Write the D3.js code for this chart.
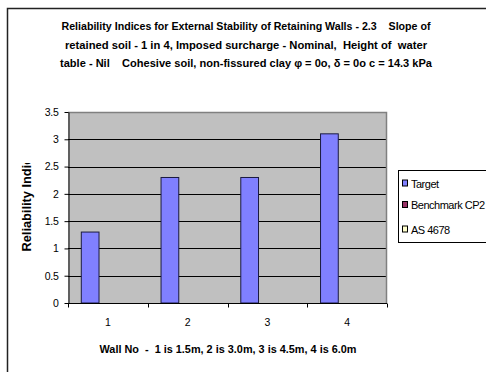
<!DOCTYPE html>
<html>
<head>
<meta charset="utf-8">
<script src="https://cdn.jsdelivr.net/npm/d3@7"></script>
<style>
  html, body { margin: 0; padding: 0; background: #fff; }
  svg { display: block; font-family: "Liberation Sans", Arial, sans-serif; }
  text.keep-spaces { white-space: pre; }
</style>
</head>
<body>
<svg id="chart" width="486" height="372"></svg>
<script>
// Wall numbers (x categories)
const categories = ["1", "2", "3", "4"];
// Series names and values (only Target has non-zero results)
const seriesNames = ["Target", "Benchmark CP2", "AS 4678"];
const targetValues = [1.3, 2.3, 2.3, 3.1];
const benchmarkValues = [0, 0, 0, 0];
const as4678Values = [0, 0, 0, 0];
const yTicks = [0, 0.5, 1, 1.5, 2, 2.5, 3, 3.5];
const titleLines = [
  "Reliability Indices for External Stability of Retaining Walls - 2.3    Slope of",
  "retained soil - 1 in 4, Imposed surcharge - Nominal,  Height of  water",
  "table - Nil    Cohesive soil, non-fissured clay \u03c6 = 0o, \u03b4 = 0o c = 14.3 kPa"
];
const xTitle = "Wall No  -  1 is 1.5m, 2 is 3.0m, 3 is 4.5m, 4 is 6.0m";
const yTitle = "Reliability Indices";

const seriesColors = ["#8080FF", "#993366", "#FFFFCC"];
const seriesValues = [targetValues, benchmarkValues, as4678Values];

const svg = d3.select("#chart");
const defs = svg.append("defs");

// Outer chart frame
svg.append("rect")
  .attr("x", 7.5).attr("y", 8.5)
  .attr("width", 520).attr("height", 400)
  .attr("fill", "#fff").attr("stroke", "#222").attr("stroke-width", 1.5);

// Title
const titleY = [30, 48.5, 67];
const titleW = [369, 362, 372];
svg.append("g").selectAll("text").data(titleLines).join("text")
  .attr("class", "keep-spaces")
  .attr("x", 246).attr("y", (d, i) => titleY[i])
  .attr("text-anchor", "middle")
  .attr("font-size", 10.5).attr("font-weight", "bold")
  .attr("textLength", (d, i) => titleW[i])
  .attr("lengthAdjust", "spacingAndGlyphs")
  .text(d => d);

// Plot area
const plot = { left: 68, top: 112, right: 387, bottom: 303 };

const x = d3.scaleBand()
  .domain(categories)
  .range([plot.left, plot.right])
  .paddingInner(0).paddingOuter(0);

const y = d3.scaleLinear()
  .domain([0, 3.5])
  .range([plot.bottom, plot.top]);

svg.append("rect")
  .attr("x", plot.left).attr("y", plot.top)
  .attr("width", plot.right - plot.left).attr("height", plot.bottom - plot.top)
  .attr("fill", "#C0C0C0");

// Gridlines
svg.append("g").selectAll("line").data(yTicks.filter(t => t > 0 && t < 3.5)).join("line")
  .attr("x1", plot.left).attr("x2", plot.right)
  .attr("y1", d => Math.round(y(d)) + 0.5).attr("y2", d => Math.round(y(d)) + 0.5)
  .attr("stroke", "#000").attr("stroke-width", 1);

// Plot border (top/right grey)
svg.append("path")
  .attr("d", `M${plot.left},${plot.top + 0.5}H${plot.right - 0.5}V${plot.bottom}`)
  .attr("fill", "none").attr("stroke", "#808080").attr("stroke-width", 1.5);

// Bars: 3 series per category with 150% gap width
const barW = x.bandwidth() / 4.5;
const barOffset = barW * 0.75;
seriesValues.forEach((vals, si) => {
  svg.append("g").selectAll("rect").data(vals.map((v, i) => ({ v, c: categories[i] })))
    .join("rect")
    .filter(d => d.v > 0)
    .attr("x", d => x(d.c) + barOffset + si * barW)
    .attr("y", d => y(d.v))
    .attr("width", barW)
    .attr("height", d => y(0) - y(d.v))
    .attr("fill", seriesColors[si])
    .attr("stroke", "#1a1a40").attr("stroke-width", 1);
});

// Y axis
const yAxis = d3.axisLeft(y).tickValues(yTicks).tickSize(4).tickSizeOuter(0)
  .tickFormat(d => String(d));
const gy = svg.append("g").attr("transform", `translate(${plot.left + 0.5},0)`).call(yAxis);
gy.select(".domain").attr("stroke", "#000");
gy.selectAll(".tick line").attr("stroke", "#000");
gy.selectAll(".tick text").attr("font-size", 10.5).attr("fill", "#000")
  .attr("font-family", "Liberation Sans, Arial, sans-serif").attr("x", -10)
  .attr("letter-spacing", -0.3);

// X axis with ticks at category boundaries
const gx = svg.append("g").attr("transform", `translate(0,${plot.bottom + 0.5})`);
gx.append("line").attr("x1", plot.left).attr("x2", plot.right)
  .attr("stroke", "#000");
const bounds = categories.map(c => x(c)).concat([plot.right]);
gx.selectAll("line.tk").data(bounds).join("line").attr("class", "tk")
  .attr("x1", d => Math.round(d) + 0.5).attr("x2", d => Math.round(d) + 0.5)
  .attr("y1", 0).attr("y2", 4).attr("stroke", "#000");
gx.selectAll("text").data(categories).join("text")
  .attr("x", d => x(d) + x.bandwidth() / 2)
  .attr("y", 22.5).attr("text-anchor", "middle")
  .attr("font-size", 10.5).text(d => d);

// Axis titles
svg.append("text")
  .attr("class", "keep-spaces")
  .attr("x", 228).attr("y", 353)
  .attr("text-anchor", "middle")
  .attr("font-size", 10).attr("font-weight", "bold")
  .attr("textLength", 257).attr("lengthAdjust", "spacingAndGlyphs")
  .text(xTitle);

// Y title is cut off where its box ends, leaving "Reliability Ind..."
defs.append("clipPath").attr("id", "yTitleClip")
  .append("rect").attr("x", 0).attr("y", 163).attr("width", 60).attr("height", 120);
svg.append("g").attr("clip-path", "url(#yTitleClip)")
  .append("text")
  .attr("transform", "translate(31,251.5) rotate(-90)")
  .attr("text-anchor", "start")
  .attr("font-size", 12.5).attr("font-weight", "bold")
  .attr("textLength", 108).attr("lengthAdjust", "spacingAndGlyphs")
  .text(yTitle);

// Legend
const legend = svg.append("g");
legend.append("rect")
  .attr("x", 398.5).attr("y", 170.5).attr("width", 120).attr("height", 72)
  .attr("fill", "#fff").attr("stroke", "#000").attr("stroke-width", 1);
const legendY = [183.5, 205, 229.5];
const items = legend.selectAll("g").data(seriesNames).join("g")
  .attr("transform", (d, i) => `translate(402,${legendY[i]})`);
items.append("rect")
  .attr("x", 0.5).attr("y", -3.5).attr("width", 5).attr("height", 6)
  .attr("fill", (d, i) => seriesColors[i]).attr("stroke", "#000").attr("stroke-width", 1);
items.append("text")
  .attr("x", 9).attr("y", 4)
  .attr("font-size", 11).attr("letter-spacing", -0.5)
  .text(d => d);
</script>
</body>
</html>
